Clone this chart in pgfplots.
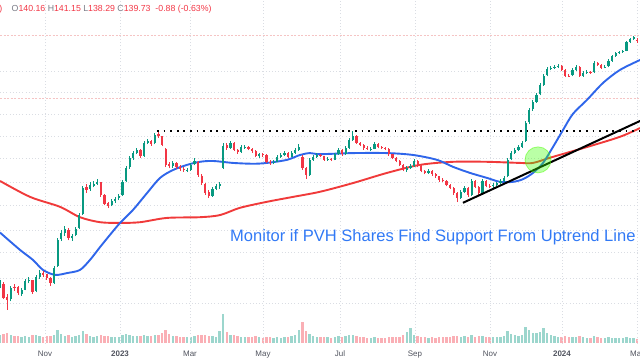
\documentclass[border=0pt]{standalone}
\usepackage{pgfplots}
\pgfplotsset{compat=1.18}
\usepackage{pgfplotstable}
\usepackage{fontspec}
\setmainfont{Liberation Sans}

\definecolor{up}{HTML}{089981}
\definecolor{dn}{HTML}{F23645}
\definecolor{maBlue}{HTML}{2F66EA}
\definecolor{maRed}{HTML}{F03A3A}
\definecolor{txtBlue}{HTML}{3179F5}
\definecolor{gridc}{HTML}{DADDE3}
\definecolor{pinkline}{HTML}{F5C4C4}
\definecolor{hdrgray}{HTML}{787B86}
\definecolor{lblgray}{HTML}{50535E}

% daily candles (every second trading day): d = trading-day index
\pgfplotstableread{
d o h l c v
0 47.6 48.9 47.2 48.2 1.5
2 48.0 48.4 44.9 45.2 1.7
4 45.4 46.0 42.9 44.8 1.9
6 44.9 47.6 44.5 47.2 1.6
8 47.5 48.1 46.6 47.2 1.3
10 47.4 47.7 45.8 46.2 1.4
12 46.0 47.3 45.6 46.8 1.2
14 46.9 49.2 46.7 48.7 1.4
16 48.6 49.6 48.2 48.9 1.2
18 48.8 49.0 46.0 46.4 1.5
20 46.6 50.0 46.3 49.5 1.6
22 49.6 51.0 49.2 50.4 1.3
24 50.5 50.9 49.6 50.0 1.2
26 50.1 50.3 48.9 49.3 1.3
28 49.4 49.6 47.6 48.2 1.4
30 48.3 52.0 48.0 51.5 1.5
32 52.0 58.8 51.8 58.3 2.6
34 58.5 60.8 58.0 60.1 1.8
36 60.0 61.9 59.4 61.2 1.4
38 61.0 61.3 58.2 58.8 1.5
40 58.7 59.9 58.1 59.4 1.2
42 59.5 61.7 59.2 61.2 1.3
44 61.4 65.6 61.1 65.0 1.6
46 65.3 74.0 65.0 73.3 2.3
48 73.5 74.6 71.6 72.6 1.7
50 72.8 75.0 72.3 74.2 1.4
52 74.0 75.4 73.4 74.5 1.2
54 74.6 76.3 74.1 75.2 1.3
56 75.0 75.3 70.5 71.0 1.5
58 70.9 71.3 67.8 68.3 1.4
60 68.4 68.9 67.0 67.7 1.3
62 67.8 69.8 67.5 69.2 1.2
64 69.1 70.4 68.6 69.8 1.1
66 69.9 71.3 69.4 70.7 1.2
68 70.9 75.8 70.6 75.2 1.6
70 75.4 80.5 75.0 79.9 1.7
72 80.1 84.2 79.6 83.5 1.6
74 83.3 86.0 82.8 85.3 1.4
76 85.5 87.3 84.9 86.5 1.3
78 86.6 86.9 83.6 84.2 1.4
80 84.4 89.9 84.0 89.2 1.5
82 89.3 90.8 88.6 90.0 1.3
84 90.1 90.5 88.0 88.8 1.4
86 89.0 93.3 88.6 92.4 1.5
88 92.6 94.0 91.2 92.0 1.6
90 91.8 92.1 87.8 88.4 1.9
92 87.0 87.4 80.2 81.0 2.6
94 81.2 81.9 79.8 80.6 1.8
96 80.5 82.5 80.0 81.7 1.4
98 81.5 81.9 79.7 80.3 1.3
100 80.4 80.9 79.0 79.6 1.2
102 79.7 80.3 78.6 79.2 1.2
104 79.0 79.9 78.5 79.2 1.1
106 79.3 81.6 79.0 81.0 1.2
108 81.2 83.3 80.8 82.4 1.3
110 82.2 82.5 76.9 77.5 1.6
112 77.3 77.7 74.2 74.8 1.5
114 74.6 74.9 71.0 71.6 1.6
116 71.8 72.4 70.0 70.7 1.4
118 70.8 73.5 70.4 72.9 1.3
120 73.0 74.5 72.5 73.9 1.2
122 73.7 75.0 73.0 74.5 2.4
124 80.0 89.0 79.5 88.0 5.8
126 88.2 89.0 86.5 87.2 2.2
128 87.4 90.0 87.0 89.2 1.6
130 89.0 89.4 86.0 86.5 1.5
132 86.6 87.0 85.1 85.7 1.3
134 85.8 88.2 85.4 87.6 1.2
136 87.4 88.4 86.9 87.6 1.1
138 87.7 88.0 86.3 86.9 1.1
140 86.8 87.2 85.5 86.1 1.2
142 86.0 86.3 83.7 84.2 1.3
144 84.1 85.5 83.6 84.9 1.1
146 85.0 85.4 84.0 84.6 1.0
148 84.5 84.8 81.6 82.1 1.2
150 82.2 82.6 81.1 81.7 1.1
152 81.6 82.7 81.2 82.1 1.0
154 82.2 84.5 81.9 83.9 1.1
156 83.8 85.2 83.4 84.6 1.0
158 84.7 85.9 84.2 85.3 1.1
160 85.2 85.6 83.4 83.9 1.2
162 84.0 85.9 83.7 85.3 1.3
164 85.4 87.1 85.0 86.5 1.5
166 86.6 88.6 86.2 87.6 2.6
168 84.0 84.5 79.3 79.9 4.2
170 79.8 80.2 76.2 77.5 2.4
172 77.6 83.4 77.3 82.8 1.8
174 82.9 84.5 82.4 83.9 1.4
176 84.0 85.3 83.6 84.6 1.2
178 84.7 85.1 83.7 84.2 1.1
180 84.1 84.4 82.3 82.8 1.2
182 82.9 83.7 82.4 83.1 1.1
184 83.2 83.5 82.3 82.8 1.0
186 82.9 85.5 82.6 84.9 1.2
188 85.0 87.1 84.6 86.5 1.3
190 86.4 86.7 84.4 84.9 1.2
192 85.0 87.8 84.7 87.2 1.3
194 87.3 91.1 87.0 90.4 1.5
196 90.5 94.0 90.1 92.0 1.6
198 91.8 92.2 88.7 89.2 1.4
200 89.3 89.7 87.9 88.4 1.2
202 88.3 88.7 86.6 87.2 1.1
204 87.3 87.8 86.4 86.9 1.0
206 86.8 87.5 86.2 86.9 1.0
208 87.0 89.4 86.7 88.8 1.1
210 88.7 89.0 87.1 87.6 1.0
212 87.5 88.0 86.7 87.2 1.0
214 87.3 87.7 86.4 86.9 1.0
216 86.8 87.1 84.4 84.9 1.1
218 84.8 85.1 83.0 83.5 1.1
220 83.6 83.9 81.9 82.4 1.2
222 82.3 82.6 80.5 81.0 1.2
224 80.9 81.3 78.7 79.2 1.6
226 79.1 80.5 78.6 79.9 2.2
228 80.0 81.3 79.5 80.6 3.0
230 80.7 83.0 80.3 82.4 1.6
232 82.3 82.6 80.1 80.6 1.3
234 80.5 80.8 78.4 78.9 1.2
236 78.8 79.2 77.7 78.2 1.1
238 78.3 79.4 77.9 78.9 1.0
240 78.8 79.1 77.3 77.8 1.1
242 77.7 78.0 76.6 77.1 1.0
244 77.0 77.3 75.3 75.8 1.2
246 75.9 76.4 75.0 75.5 1.1
248 75.4 75.7 73.7 74.2 1.2
250 74.1 74.5 72.8 73.3 1.2
252 73.2 73.6 71.1 71.6 1.3
254 71.5 71.9 68.8 70.1 1.4
256 70.2 72.4 69.8 71.9 1.2
258 72.0 73.8 71.6 73.3 1.3
260 73.2 73.5 70.5 71.0 1.2
262 71.1 76.1 70.8 75.5 1.5
264 75.4 75.8 73.1 73.6 1.2
266 73.5 73.9 71.1 71.6 1.3
268 71.7 76.0 71.4 75.5 1.4
270 75.4 75.9 73.4 73.9 1.2
272 73.8 74.5 73.1 73.6 1.1
274 73.7 74.8 73.3 74.2 1.1
276 74.1 75.3 73.8 74.8 1.1
278 74.9 76.0 74.5 75.5 1.2
280 75.6 77.0 75.2 76.5 1.3
282 77.0 83.5 76.7 82.8 2.4
284 83.0 85.9 82.6 85.3 1.7
286 85.4 87.1 85.0 86.5 1.5
288 86.6 88.2 86.2 87.6 1.4
290 87.7 89.9 87.3 89.2 1.6
292 90.0 98.2 89.6 97.4 3.2
294 97.6 104.0 97.1 103.1 2.6
296 103.3 107.6 102.8 106.8 2.0
298 106.9 110.9 106.4 110.1 1.9
300 110.3 115.9 109.8 115.0 2.2
302 115.2 120.6 114.7 119.7 2.9
304 119.9 124.3 119.4 123.4 2.0
306 123.2 125.0 122.6 124.0 1.5
308 124.2 125.4 123.5 124.5 1.3
310 124.4 126.0 124.0 125.1 1.2
312 125.0 125.4 122.2 122.8 1.2
314 122.7 123.1 119.0 119.7 1.3
316 119.8 120.9 119.1 119.7 1.1
318 119.9 123.6 119.4 122.8 1.2
320 122.9 125.3 122.4 124.5 1.1
322 124.3 124.8 119.1 119.7 1.3
324 119.8 122.0 119.3 121.3 1.1
326 121.4 122.6 120.9 121.8 1.0
328 121.7 122.1 120.7 121.3 1.0
330 121.5 127.6 121.1 126.7 1.3
332 126.8 127.2 125.0 125.6 1.1
334 125.5 125.9 123.4 124.0 1.0
336 124.1 125.3 123.6 124.5 1.0
338 124.7 128.6 124.2 127.8 1.1
340 127.9 131.4 127.4 130.6 1.0
342 130.7 133.1 130.2 132.3 1.0
344 132.4 133.7 131.9 132.9 0.9
346 133.0 134.3 132.5 133.5 0.9
348 133.7 139.6 133.2 138.9 1.1
350 139.0 141.5 138.5 140.7 1.0
352 140.8 142.7 140.3 141.9 0.9
354 140.16 141.15 138.29 139.73 0.8
}\candles
\pgfplotstablegetrowsof{\candles}
\pgfmathtruncatemacro\lastrow{\pgfplotsretval-1}

% 50-day moving average
\pgfplotstableread{
d p
0 60.2
11.1 55.8
18.3 53.4
23.9 51.1
30.6 50.0
37.2 50.4
44.4 51.1
50.0 53.4
55.6 56.5
61.1 59.6
66.7 62.8
73.9 66.5
81.7 71.6
88.9 76.5
96.1 79.2
103.9 81.0
111.1 82.1
118.3 82.4
129.4 81.7
140.6 81.4
148.3 81.7
159.4 82.8
166.7 84.6
172.2 85.3
177.8 84.9
196.1 85.3
215.0 85.3
229.4 84.6
242.8 82.8
251.7 80.3
261.1 78.2
270.6 76.5
277.8 75.2
285.0 75.2
290.6 76.1
296.1 78.2
301.7 81.7
307.2 87.6
312.8 94.4
318.3 101.3
326.1 107.7
335.0 116.0
344.4 122.8
355.6 128.3
}\smaFifty

% 200-day moving average
\pgfplotstableread{
d p
0 75.5
16.7 70.4
33.3 67.4
44.4 64.4
55.6 63.0
66.7 62.8
77.8 63.0
92.8 64.2
111.1 64.4
122.2 65.0
133.3 67.1
148.3 68.9
162.8 70.4
177.8 72.0
196.1 74.8
215.0 78.2
233.3 81.0
251.7 82.1
270.6 82.1
288.9 81.7
296.1 81.7
307.2 83.9
326.1 87.6
344.4 91.6
355.6 95.2
}\smaTwoHundred

\begin{document}
\begin{tikzpicture}
\path[use as bounding box] (0bp,0bp) rectangle (640bp,360bp);

% ---------- volume ----------
\begin{axis}[at={(0bp,16bp)}, anchor=south west, scale only axis,
  width=640bp, height=344bp, xmin=0, xmax=355.56, ymin=-0.2, ymax=68.6,
  hide axis]
\foreach \i in {0,...,\lastrow}{
  \pgfplotstablegetelem{\i}{d}\of\candles \let\cd\pgfplotsretval
  \pgfplotstablegetelem{\i}{o}\of\candles \let\co\pgfplotsretval
  \pgfplotstablegetelem{\i}{c}\of\candles \let\cc\pgfplotsretval
  \pgfplotstablegetelem{\i}{v}\of\candles \let\cv\pgfplotsretval
  \ifdim\cc pt<\co pt \def\col{dn}\else\def\col{up}\fi
  \edef\temp{\noexpand\addplot[forget plot, draw=\col, draw opacity=0.4, line width=2.4bp] coordinates {(\cd,0) (\cd,\cv)};}
  \temp
}
\end{axis}

% ---------- price ----------
\begin{axis}[at={(0bp,16bp)}, anchor=south west, scale only axis,
  width=640bp, height=344bp, xmin=0, xmax=355.56,
  ymode=log, ymin=36.94, ymax=166.9,
  axis line style={draw=none}, tick style={draw=none},
  xtick={25,66.67,105.56,146.11,188.89,230.56,272.22,312.22,353.9},
  xticklabels={Nov,\textbf{2023},Mar,May,Jul,Sep,Nov,\textbf{2024},Mar},
  xticklabel style={anchor=base, yshift=-12.5bp, text=lblgray,
    font=\fontsize{8}{9}\selectfont},
  ytick={44.2,49.3,55.1,60.9,67.7,75.2,83.5,92.0,101.3,111.5,122.3},
  yticklabels={},
  grid=major,
  major grid style={gridc, line width=0.6bp, dash pattern=on 1bp off 2.2bp},
]
\addplot[forget plot, pinkline, line width=0.7bp, dash pattern=on 2bp off 1.5bp] coordinates {(0,143.2) (355.56,143.2)};
\addplot[forget plot, pinkline, line width=0.7bp, dash pattern=on 2bp off 1.5bp] coordinates {(0,108.6) (355.56,108.6)};

\addplot[forget plot, maRed, line width=1.9bp, smooth] table[x=d,y=p]{\smaTwoHundred};
\addplot[forget plot, maBlue, line width=1.9bp, smooth] table[x=d,y=p]{\smaFifty};

\foreach \i in {0,...,\lastrow}{
  \pgfplotstablegetelem{\i}{d}\of\candles \let\cd\pgfplotsretval
  \pgfplotstablegetelem{\i}{o}\of\candles \let\co\pgfplotsretval
  \pgfplotstablegetelem{\i}{h}\of\candles \let\ch\pgfplotsretval
  \pgfplotstablegetelem{\i}{l}\of\candles \let\cl\pgfplotsretval
  \pgfplotstablegetelem{\i}{c}\of\candles \let\cc\pgfplotsretval
  \ifdim\cc pt<\co pt \def\col{dn}\else\def\col{up}\fi
  \edef\temp{\noexpand\addplot[forget plot, draw=\col, line width=0.7bp] coordinates {(\cd,\cl) (\cd,\ch)};
    \noexpand\addplot[forget plot, draw=\col, line width=2.2bp] coordinates {(\cd,\co) (\cd,\cc)};}
  \temp
}

% resistance (dotted) and uptrend line
\addplot[forget plot, black, line width=1.8bp, dash pattern=on 1.8bp off 4.8bp] coordinates {(87.2,94.0) (355.56,94.0)};
\addplot[forget plot, black, line width=2bp] coordinates {(257.2,68.6) (355.6,98.2)};

\fill[green!70!lime, fill opacity=0.35, draw=green!60!lime, draw opacity=0.5, line width=0.8bp]
  (axis cs:298.9,82.8) circle[radius=13bp];
\end{axis}

\node[anchor=base west, text=txtBlue, font=\fontsize{16.6}{18}\selectfont, inner sep=0pt]
  at (230bp,118bp) {Monitor if PVH Shares Find Support From Uptrend Line};

\node[anchor=base west, inner sep=0pt, font=\fontsize{8.8}{10}\selectfont]
  at (11.5bp,348bp) {\textcolor{hdrgray}{O}\textcolor{dn}{140.16}\ \textcolor{hdrgray}{H}\textcolor{dn}{141.15}\ \textcolor{hdrgray}{L}\textcolor{dn}{138.29}\ \textcolor{hdrgray}{C}\textcolor{dn}{139.73\ \ -0.88 (-0.63\%)}};
\node[anchor=base east, inner sep=0pt, text=dn, font=\fontsize{8.8}{10}\selectfont] at (2.5bp,348bp) {)};
\end{tikzpicture}
\end{document}
